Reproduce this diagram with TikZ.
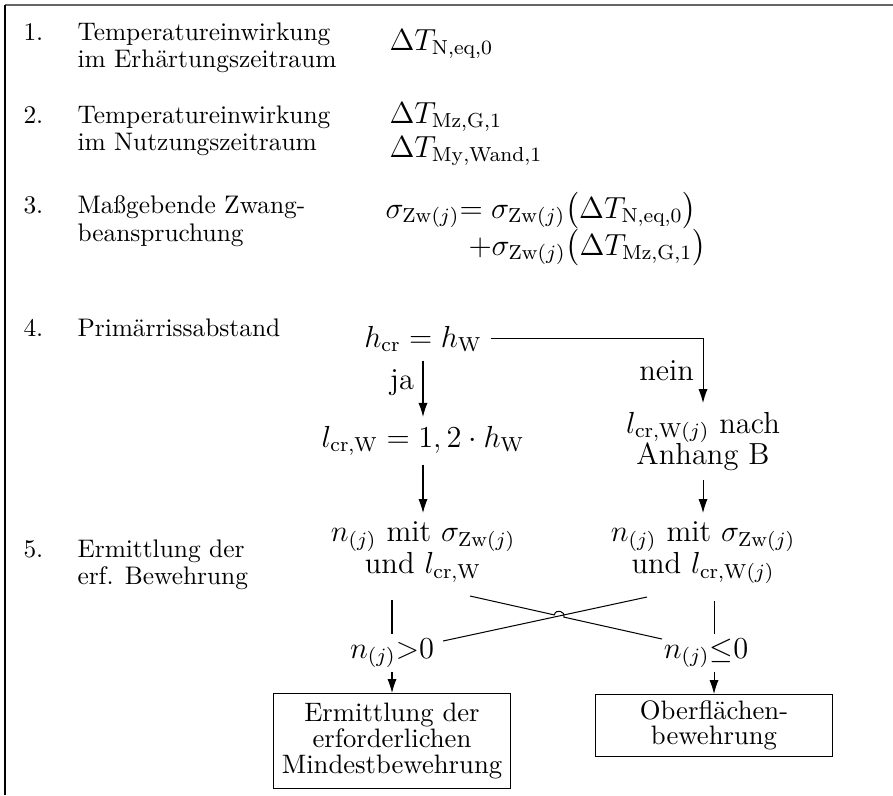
\documentclass[tikz,border=0pt]{standalone}
\usepackage{amsmath}
\usetikzlibrary{arrows.meta}

\begin{document}
\begin{tikzpicture}[x=0.01384cm,y=-0.01384cm,
    every node/.style={inner sep=0pt},
    itemnum/.style={anchor=base west,font=\fontsize{10}{12}\selectfont},
    itemtext/.style={anchor=north west,align=left,font=\fontsize{10}{10.8}\selectfont},
    formel/.style={anchor=base west,font=\fontsize{12}{14}\selectfont},
    flow/.style={inner sep=3.33pt,align=center,font=\fontsize{12}{12.5}\selectfont},
    lab/.style={inner sep=3.33pt,font=\fontsize{12}{14}\selectfont},
    cond/.style={inner sep=1.5pt,anchor=base,font=\fontsize{12}{14}\selectfont},
    resultbox/.style={draw,anchor=north,align=center,text width=87.3pt,
      inner xsep=3pt,inner ysep=3.8pt,font=\fontsize{10.5}{10.2}\selectfont},
    pfeil/.style={-{Latex[length=5.5pt,width=3.6pt]}}]
  \useasboundingbox (0,0) rectangle (893,795);
  % Rahmen
  \draw[line width=0.8pt,black!60] (5,5) -- (893,5);
  \draw[line width=0.8pt] (5,5) -- (5,795);

  % Schritte 1--3
  \node[itemnum] (num1) at (23,40) {1.};
  \node[itemtext] (txt1) at (77,22.4) {Temperatureinwirkung\\im Erhärtungszeitraum};
  \node[formel] (dTN) at (389,50) {$\Delta T_{\mathrm{N,eq,0}}$};
  \node[itemnum] (num2) at (23,123) {2.};
  \node[itemtext] (txt2) at (77,105.4) {Temperatureinwirkung\\im Nutzungszeitraum};
  \node[formel] (dTMz) at (389,123) {$\Delta T_{\mathrm{Mz,G,1}}$};
  \node[formel] (dTMy) at (389,157) {$\Delta T_{\mathrm{My,Wand,1}}$};
  \node[itemnum] (num3) at (23,213) {3.};
  \node[itemtext] (txt3) at (77,195.4) {Maßgebende Zwang-\\beanspruchung};
  \node[formel] (sigA) at (385,218)
    {$\sigma_{\mathrm{Zw}(j)}{=}\;\sigma_{\mathrm{Zw}(j)}\bigl(\Delta T_{\mathrm{N,eq,0}}\bigr)$};
  \node[formel] (sigB) at (468,255)
    {$+\sigma_{\mathrm{Zw}(j)}\bigl(\Delta T_{\mathrm{Mz,G,1}}\bigr)$};

  % Schritte 4--5
  \node[itemnum] (num4) at (23,336) {4.};
  \node[itemnum] (txt4) at (77,336) {Primärrissabstand};
  \node[itemnum] (num5) at (23,557) {5.};
  \node[itemtext] (txt5) at (77,539.4) {Ermittlung der\\erf. Bewehrung};

  % Ablauf
  \node[flow,anchor=base] (hcr) at (423,347) {$h_{\mathrm{cr}} = h_{\mathrm{W}}$};
  \node[flow,anchor=base] (lcrA) at (423,447) {$l_{\mathrm{cr,W}} = 1,2 \cdot h_{\mathrm{W}}$};
  \node[flow,anchor=north] (lcrB) at (703,403) {$l_{\mathrm{cr,W}(j)}$ nach\\Anhang B};
  \node[flow,anchor=north] (nA) at (423,513) {$n_{(j)}$ mit $\sigma_{\mathrm{Zw}(j)}$\\und $l_{\mathrm{cr,W}}$};
  \node[flow,anchor=north] (nB) at (703,513) {$n_{(j)}$ mit $\sigma_{\mathrm{Zw}(j)}$\\und $l_{\mathrm{cr,W}(j)}$};
  \node[cond] (gtA) at (392,658) {$n_{(j)}{>}0$};
  \node[cond] (leB) at (706,658) {$n_{(j)}{\leq}0$};
  \node[resultbox] (boxA) at (392,693) {Ermittlung der\\erforderlichen\\Mindestbewehrung};
  \node[resultbox,inner ysep=2.6pt,font=\fontsize{10.5}{9.6}\selectfont] (boxB) at (714,694)
    {Oberflächen-\\bewehrung};

  \draw[pfeil] (hcr.south) -- node[lab,left,pos=0.4] {ja} (lcrA.north);
  \draw[pfeil] (hcr.east) -| node[lab,left,pos=0.75] {nein} (lcrB.north);
  \draw[pfeil] (lcrA) -- (nA);
  \draw[pfeil] (lcrB) -- (nB);
  \draw[shorten <=3.5pt] (nA.south -| gtA.north) -- (gtA.north);
  \draw[shorten <=3.5pt] (nB.south -| boxB.north) -- (leB.north -| boxB.north);
  \draw[pfeil] (gtA.south) -- (boxA.north);
  \draw[pfeil] (leB.south -| boxB.north) -- (boxB.north);

  % Kreuzung mit Sprung
  \coordinate (kA1) at (470,596);
  \coordinate (kA2) at (662,639);
  \coordinate (kB1) at (647,597);
  \coordinate (kB2) at (443,641);
  \draw (kB1) -- (kB2);
  \draw (kA1) -- (554.3,614.9) .. controls (555.7,608.6) and (565.3,610.8) .. (563.9,617.1) -- (kA2);
\end{tikzpicture}
\end{document}
